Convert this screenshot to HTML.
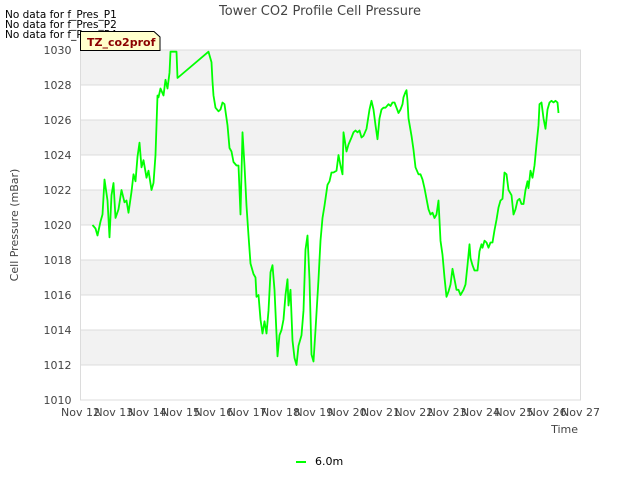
<!DOCTYPE html>
<html><head><meta charset="utf-8"><style>
body{margin:0;background:#fff;}
svg{display:block;font-family:"DejaVu Sans","Liberation Sans",sans-serif;}
</style></head><body>
<svg id="chart" width="640" height="480">
<text x="320" y="15" text-anchor="middle" font-size="13" fill="#444">Tower CO2 Profile Cell Pressure</text>
<text x="5" y="18" font-size="10.5" fill="#000">No data for f_Pres_P1</text>
<text x="5" y="28" font-size="10.5" fill="#000">No data for f_Pres_P2</text>
<text x="5" y="38" font-size="10.5" fill="#000">No data for f_Pres_P4</text>
<g id="plot"></g>
<g>
<path d="M80.5,31.5 H154 L160,37 V50.5 H80.5 Z" fill="#ffffcc" stroke="#000" stroke-width="1"/>
<text x="87" y="46" font-size="11" font-weight="bold" fill="#8b0000">TZ_co2prof</text>
</g>
<text transform="translate(18,225) rotate(-90)" text-anchor="middle" font-size="11" fill="#444">Cell Pressure (mBar)</text>
<text x="578" y="433" text-anchor="end" font-size="11" fill="#444">Time</text>
<line x1="296" y1="462" x2="306" y2="462" stroke="#00ff00" stroke-width="2"/>
<text x="315" y="465" font-size="11" fill="#000">6.0m</text>
</svg>
<script>
const dayLabels=["Nov 12","Nov 13","Nov 14","Nov 15","Nov 16","Nov 17","Nov 18","Nov 19","Nov 20","Nov 21","Nov 22","Nov 23","Nov 24","Nov 25","Nov 26","Nov 27"];
const yTicks=[1010,1012,1014,1016,1018,1020,1022,1024,1026,1028,1030];
const days=[.36,.45,.51,.60,.66,.72,.81,.87,.93,.99,1.05,1.14,1.23,1.32,1.38,1.44,1.53,1.59,1.65,1.71,1.77,1.83,1.89,1.98,2.04,2.13,2.19,2.25,2.31,2.34,2.40,2.49,2.55,2.61,2.67,2.70,2.88,2.91,3.84,3.93,3.96,3.99,4.05,4.14,4.20,4.26,4.32,4.41,4.47,4.53,4.59,4.68,4.74,4.80,4.86,4.92,4.98,5.04,5.10,5.16,5.19,5.25,5.28,5.34,5.40,5.46,5.52,5.58,5.64,5.70,5.76,5.82,5.91,5.97,6.03,6.09,6.15,6.21,6.24,6.30,6.36,6.42,6.48,6.54,6.63,6.69,6.75,6.81,6.87,6.93,6.99,7.05,7.14,7.20,7.26,7.32,7.41,7.47,7.53,7.59,7.68,7.74,7.80,7.86,7.89,7.98,8.04,8.13,8.19,8.25,8.31,8.37,8.43,8.49,8.58,8.67,8.73,8.79,8.85,8.91,8.97,9.03,9.09,9.15,9.24,9.30,9.36,9.42,9.48,9.54,9.60,9.66,9.69,9.75,9.78,9.81,9.84,9.93,9.99,10.05,10.14,10.20,10.26,10.32,10.38,10.44,10.50,10.56,10.62,10.68,10.74,10.80,10.86,10.92,10.98,11.04,11.10,11.16,11.22,11.28,11.34,11.40,11.49,11.55,11.61,11.67,11.70,11.76,11.82,11.91,11.97,12.03,12.06,12.12,12.18,12.24,12.30,12.36,12.42,12.48,12.54,12.60,12.66,12.72,12.78,12.84,12.93,12.99,13.05,13.11,13.17,13.23,13.29,13.35,13.41,13.44,13.50,13.56,13.62,13.68,13.74,13.77,13.83,13.89,13.95,14.01,14.07,14.13,14.19,14.25,14.31,14.34];
const pressure=[1020.0,1019.8,1019.4,1020.2,1020.6,1022.6,1021.4,1019.3,1021.7,1022.4,1020.4,1020.9,1022.0,1021.3,1021.4,1020.7,1021.9,1022.9,1022.5,1023.9,1024.7,1023.3,1023.7,1022.7,1023.1,1022.0,1022.4,1024.0,1027.4,1027.3,1027.8,1027.4,1028.3,1027.8,1028.7,1029.9,1029.9,1028.4,1029.9,1029.3,1028.2,1027.4,1026.7,1026.5,1026.6,1027.0,1026.9,1025.7,1024.4,1024.2,1023.6,1023.4,1023.4,1020.6,1025.3,1023.4,1021.1,1019.4,1017.8,1017.4,1017.2,1017.0,1015.9,1016.0,1014.6,1013.8,1014.5,1013.8,1015.1,1017.3,1017.7,1016.3,1012.5,1013.7,1014.0,1014.6,1016.0,1016.9,1015.4,1016.3,1013.4,1012.4,1012.0,1013.1,1013.7,1015.1,1018.6,1019.4,1016.9,1012.6,1012.2,1014.0,1016.9,1019.1,1020.4,1021.1,1022.3,1022.5,1023.0,1023.0,1023.1,1024.0,1023.4,1022.9,1025.3,1024.2,1024.6,1025.0,1025.3,1025.4,1025.3,1025.4,1025.0,1025.1,1025.5,1026.6,1027.1,1026.6,1025.7,1024.9,1026.1,1026.6,1026.7,1026.7,1026.9,1026.8,1027.0,1027.0,1026.7,1026.4,1026.6,1026.9,1027.3,1027.6,1027.7,1027.1,1026.1,1025.1,1024.3,1023.3,1022.9,1022.9,1022.6,1022.1,1021.5,1020.9,1020.6,1020.7,1020.4,1020.6,1021.4,1019.1,1018.3,1017.0,1015.9,1016.2,1016.6,1017.5,1016.9,1016.3,1016.3,1016.0,1016.3,1016.6,1017.7,1018.9,1018.1,1017.7,1017.4,1017.4,1018.5,1018.9,1018.7,1019.1,1019.0,1018.7,1019.0,1019.0,1019.7,1020.3,1021.0,1021.4,1021.5,1023.0,1022.9,1022.0,1021.7,1020.6,1020.9,1021.4,1021.5,1021.2,1021.2,1022.0,1022.5,1022.1,1023.1,1022.7,1023.4,1024.6,1025.7,1026.9,1027.0,1026.1,1025.5,1026.6,1027.0,1027.1,1027.0,1027.1,1027.0,1026.4];
const L=80.5,R=580.5,T=50,B=400,yMin=1010,yMax=1030;
const xs=d=>L+d*(R-L)/15;
const ys=v=>B-(v-yMin)*(B-T)/(yMax-yMin);
const NS="http://www.w3.org/2000/svg";
const g=document.getElementById('plot');
function mk(tag,attrs,parent){const e=document.createElementNS(NS,tag);for(const k in attrs)e.setAttribute(k,attrs[k]);(parent||g).appendChild(e);return e;}
for(let i=0;i<yTicks.length-1;i++){
  if(i%2===1){const b=mk('rect',{x:L,y:ys(yTicks[i+1]),width:R-L,height:ys(yTicks[i])-ys(yTicks[i+1]),fill:'#f2f2f2'});
  
  }
}
yTicks.forEach(v=>{
  const l=mk('line',{x1:L,x2:R,y1:ys(v),y2:ys(v),stroke:'#dcdcdc','stroke-width':1});
  
  
  const t=mk('text',{x:L-9,y:ys(v)+4,'text-anchor':'end','font-size':11,fill:'#444'});
  t.textContent=v;
  
  
});
mk('rect',{x:L,y:T,width:R-L,height:B-T,fill:'none',stroke:'#dcdcdc'});
dayLabels.forEach((s,i)=>{
  const t=mk('text',{x:xs(i),y:B+16,'text-anchor':'middle','font-size':11,fill:'#444'});
  t.textContent=s;
  
  
});
const pts=days.map((d,i)=>xs(d).toFixed(1)+','+ys(pressure[i]).toFixed(1)).join(' ');
const line=mk('polyline',{points:pts,fill:'none',stroke:'#00ff00','stroke-width':1.8,'stroke-linejoin':'round'});


</script>
</body></html>
